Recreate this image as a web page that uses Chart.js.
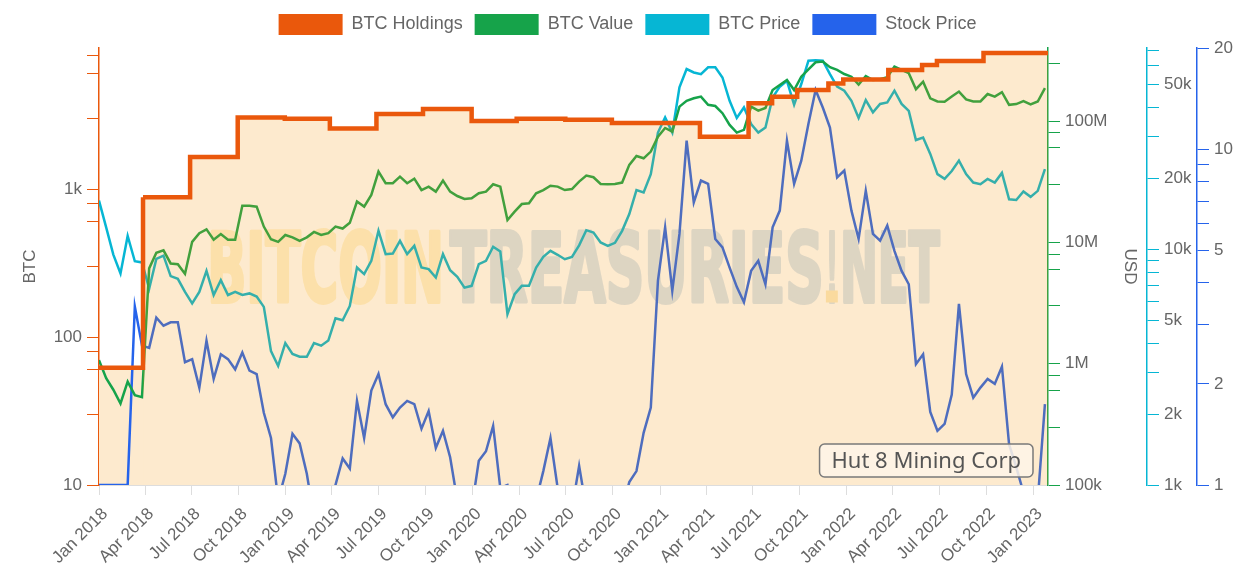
<!DOCTYPE html>
<html>
<head>
<meta charset="utf-8">
<title>Hut 8 Mining Corp</title>
<script src="https://cdn.jsdelivr.net/npm/chart.js@4.4.0/dist/chart.umd.min.js"></script>
<style>
  html, body { margin: 0; padding: 0; background: #fff; }
  #wrap { position: relative; width: 1244px; height: 588px; }
</style>
</head>
<body>
<div id="wrap"><canvas id="chart"></canvas></div>
<script>
// price / value / stock series are sampled every 14 days from firstDate
const firstDate = '2018-01-01';
const stepDays = 14;
const lastDate = '2023-01-29';

const btcPrice = [16100, 12400, 9500, 7900, 11400, 8900, 8800, 6800, 9100, 9400,
  7700, 7500, 6600, 5900, 6600, 8100, 6400, 7400, 6400, 6600,
  6400, 6500, 6300, 5700, 3700, 3200, 4000, 3600, 3500, 3500,
  4000, 3900, 4100, 5100, 5000, 5750, 8370, 7850, 8930, 12000,
  9540, 9600, 10870, 9540, 10350, 8370, 8240, 7590, 9540, 8160,
  7640, 6880, 7000, 8650, 8930, 10250, 9790, 5310, 6450, 7000,
  7000, 8370, 9290, 9850, 9480, 9080, 9290, 10400, 12060, 11790,
  10690, 10350, 10660, 11980, 14110, 17840, 17430, 20850, 31300, 36300,
  31300, 48700, 58200, 56300, 55400, 59200, 59200, 53600, 42700, 36100,
  40000, 34000, 31300, 32900, 44100, 49000, 51900, 41100, 50300, 63200,
  63500, 63200, 55400, 49000, 47100, 42700, 36100, 43000, 38100, 41400,
  42000, 47100, 41400, 38700, 29100, 29800, 25400, 20850, 19900, 21500,
  23800, 20850, 19200, 18900, 19900, 19200, 21100, 16300, 16200, 17600,
  16700, 17700, 21900];

const btcValue = [1.07e6, 7.6e5, 6.1e5, 4.7e5, 7.1e5, 5.5e5, 5.3e5, 6.1e6, 8.2e6, 8.6e6,
  6.7e6, 6.6e6, 5.5e6, 1.01e7, 1.19e7, 1.28e7, 1.05e7, 1.17e7, 1.05e7, 1.05e7,
  2.0e7, 2.0e7, 1.97e7, 1.35e7, 1.06e7, 1.01e7, 1.15e7, 1.10e7, 1.03e7, 1.10e7,
  1.22e7, 1.15e7, 1.19e7, 1.35e7, 1.30e7, 1.45e7, 2.17e7, 1.97e7, 2.46e7, 3.83e7,
  3.07e7, 3.07e7, 3.48e7, 3.07e7, 3.35e7, 2.70e7, 2.88e7, 2.62e7, 3.23e7, 2.62e7,
  2.41e7, 2.28e7, 2.31e7, 2.54e7, 2.62e7, 3.01e7, 2.88e7, 1.53e7, 1.79e7, 2.07e7,
  2.10e7, 2.54e7, 2.70e7, 2.93e7, 2.88e7, 2.70e7, 2.75e7, 3.17e7, 3.55e7, 3.44e7,
  3.03e7, 3.01e7, 3.03e7, 3.11e7, 4.35e7, 5.15e7, 4.93e7, 5.60e7, 7.43e7, 8.77e7,
  8.18e7, 1.315e8, 1.47e8, 1.54e8, 1.59e8, 1.36e8, 1.33e8, 1.16e8, 9.29e7, 8.03e7,
  8.45e7, 1.315e8, 1.22e8, 1.28e8, 1.80e8, 1.98e8, 2.18e8, 1.80e8, 2.32e8, 2.67e8,
  3.05e8, 3.09e8, 2.78e8, 2.64e8, 2.44e8, 2.32e8, 2.00e8, 2.35e8, 2.18e8, 2.21e8,
  2.30e8, 2.81e8, 2.64e8, 2.48e8, 1.83e8, 2.11e8, 1.54e8, 1.45e8, 1.44e8, 1.59e8,
  1.75e8, 1.51e8, 1.45e8, 1.45e8, 1.67e8, 1.59e8, 1.73e8, 1.36e8, 1.38e8, 1.46e8,
  1.37e8, 1.45e8, 1.87e8];

// before listing the line sits on the axis floor (1)
const stockPrice = [1, 1, 1, 1, 1, 3.4, 2.6, 2.56, 3.15, 2.98,
  3.05, 3.05, 2.32, 2.37, 1.95, 2.69, 2.07, 2.45, 2.37, 2.21,
  2.48, 2.19, 2.14, 1.64, 1.38, 0.9, 1.08, 1.42, 1.33, 1.08,
  0.8, 0.75, 0.8, 1.0, 1.2, 1.12, 1.78, 1.38, 1.91, 2.14,
  1.74, 1.59, 1.70, 1.78, 1.74, 1.47, 1.66, 1.29, 1.45, 1.21,
  0.9, 0.85, 0.85, 1.18, 1.26, 1.5, 0.98, 1.0, 0.85, 0.85,
  0.85, 0.9, 1.1, 1.38, 0.98, 0.85, 0.85, 1.14, 0.85, 0.8,
  0.8, 0.8, 0.85, 0.85, 1.02, 1.10, 1.43, 1.7, 4.06, 5.85,
  3.79, 5.59, 10.6, 6.94, 8.06, 7.88, 5.40, 5.10, 4.44, 3.89,
  3.5, 4.34, 4.65, 3.96, 5.85, 6.56, 10.6, 7.88, 9.24, 11.9,
  15.0, 13.3, 11.6, 8.24, 8.63, 6.56, 5.40, 7.52, 5.59, 5.34,
  5.92, 4.98, 4.34, 3.96, 2.29, 2.45, 1.65, 1.45, 1.52, 1.86,
  3.46, 2.14, 1.82, 1.95, 2.07, 2.0, 2.25, 1.32, 1.13, 0.95,
  0.85, 0.9, 1.74];

// holdings change dates (step line)
const holdDates = ['2018-01-01', '2018-03-28', '2018-06-28', '2018-09-29', '2018-12-30',
  '2019-03-28', '2019-06-27', '2019-09-26', '2019-12-30', '2020-03-27', '2020-06-30',
  '2020-09-29', '2021-03-20', '2021-06-23', '2021-08-08', '2021-09-26', '2021-11-26',
  '2021-12-25', '2022-03-23', '2022-05-28', '2022-06-26', '2022-09-25', '2023-01-29'];
const holdings = [62, 880, 1650, 3050, 2990, 2570, 3210, 3470, 2880, 2990, 2945,
  2790, 2256, 3794, 4205, 4667, 5176, 5506, 6370, 6890, 7330, 8300, 8300];

const quarterLabels = ['Jan 2018', 'Apr 2018', 'Jul 2018', 'Oct 2018', 'Jan 2019', 'Apr 2019',
  'Jul 2019', 'Oct 2019', 'Jan 2020', 'Apr 2020', 'Jul 2020', 'Oct 2020', 'Jan 2021',
  'Apr 2021', 'Jul 2021', 'Oct 2021', 'Jan 2022', 'Apr 2022', 'Jul 2022', 'Oct 2022', 'Jan 2023'];

const btcTicks = [10, 30, 60, 80, 100, 300, 600, 800, 1000, 3000, 6000, 8000];
const btcTickText = { 10: '10', 100: '100', 1000: '1k' };
const usdTicks = [1e5, 3e5, 6e5, 8e5, 1e6, 3e6, 6e6, 8e6, 1e7, 3e7, 6e7, 8e7, 1e8, 3e8];
const usdTickText = { 100000: '100k', 1000000: '1M', 10000000: '10M', 100000000: '100M' };
const priceTicks = [1000, 2000, 3000, 4000, 5000, 6000, 7000, 8000, 9000,
  10000, 20000, 30000, 40000, 50000, 60000, 70000];
const priceTickText = { 1000: '1k', 2000: '2k', 5000: '5k', 10000: '10k', 20000: '20k', 50000: '50k' };
const stockTicks = [1, 2, 3, 4, 5, 6, 7, 8, 9, 10, 20];
const stockTickText = { 1: '1', 2: '2', 5: '5', 10: '10', 20: '20' };

const ORANGE = '#ea580c', GREEN = '#16a34a', CYAN = '#06b6d4', BLUE = '#2563eb';
const FILL = 'rgba(245,150,10,0.2)';
const GREY = '#666';

const MONTHS = { Jan: 0, Apr: 3, Jul: 6, Oct: 9 };
const day0 = Date.parse(firstDate);
const dayOf = s => Math.round((Date.parse(s) - day0) / 864e5);
const quarterDays = quarterLabels.map(l => {
  const [m, y] = l.split(' ');
  return Math.round((Date.UTC(+y, MONTHS[m], 1) - day0) / 864e5);
});

const series = arr => arr.map((v, i) => ({ x: i * stepDays, y: v }));
const holdPoints = holdDates.map((d, i) => ({ x: dayOf(d), y: holdings[i] }));

Chart.defaults.font.family = '"Liberation Sans", Arial, sans-serif';
Chart.defaults.font.size = 17;
Chart.defaults.color = GREY;

function fixedTicks(list) {
  return s => { s.ticks = list.map(v => ({ value: v })); };
}

function logAxis(pos, min, max, ticks, text, color, width, extra) {
  return Object.assign({
    type: 'logarithmic', position: pos, min, max, bounds: 'data',
    afterBuildTicks: fixedTicks(ticks),
    afterFit: s => { s.width = width; },
    ticks: { autoSkip: false, padding: 5, color: GREY, callback: v => text[v] || '' },
    grid: { drawOnChartArea: false, tickLength: 12, color, lineWidth: 1 },
    border: { color, width: 1.5 }
  }, extra || {});
}

const legendGap = {
  id: 'legendGap',
  beforeLayout(chart) {
    const lg = chart.legend;
    if (lg && !lg._gapPatched) {
      const fit = lg.fit;
      lg.fit = function () { fit.call(this); this.height += 3; };
      lg._gapPatched = true;
    }
  }
};

const backdrop = {
  id: 'backdrop',
  beforeDatasetsDraw(chart) {
    const { ctx, chartArea: a, scales } = chart;
    ctx.save();
    // area under the first (pre-purchase) holdings step
    const x1 = scales.x.getPixelForValue(holdPoints[1].x);
    const y0 = scales.yBtc.getPixelForValue(holdings[0]);
    ctx.fillStyle = 'rgb(253,234,206)';
    ctx.fillRect(a.left, y0, x1 - a.left, a.bottom - y0);

    // watermark
    const w = (a.right - a.left) * 0.772;
    const left = (a.left + a.right) / 2 - w / 2;
    const base = (a.top + a.bottom) / 2 + 35;
    const parts = [
      ['BITCOIN', 0, 0.3233, 'rgb(254,243,210)'],
      ['TREASURIES', 0.3315, 0.8417, 'rgb(216,229,241)'],
      ['!', 0.8445, 0.8608, 'rgb(216,229,241)'],
      ['NET', 0.8636, 1, 'rgb(216,229,241)']
    ];
    ctx.font = 'bold 96px "Liberation Sans Narrow", "DejaVu Sans Condensed", "Liberation Sans", sans-serif';
    ctx.textBaseline = 'alphabetic';
    ctx.textAlign = 'left';
    ctx.lineJoin = 'round';
    for (const [t, f0, f1, c] of parts) {
      const mw = ctx.measureText(t).width;
      const sx = (f1 - f0) * w / mw;
      ctx.save();
      ctx.translate(left + f0 * w, base);
      ctx.scale(sx, 1);
      ctx.fillStyle = c;
      ctx.strokeStyle = c;
      ctx.lineWidth = 4;
      ctx.fillText(t, 0, 0);
      ctx.strokeText(t, 0, 0);
      ctx.restore();
    }
    ctx.fillStyle = 'rgb(252,236,196)';
    ctx.fillRect(left + 0.8445 * w, base - 11, 0.0163 * w, 12);
    ctx.restore();
  },
  afterDatasetsDraw(chart) {
    const { ctx, chartArea: a } = chart;
    const label = 'Hut 8 Mining Corp';
    ctx.save();
    ctx.font = '22px "Noto Sans", "Open Sans", sans-serif';
    const tw = ctx.measureText(label).width;
    const bw = tw + 24, bh = 33;
    const bx = a.right - 15 - bw, by = a.bottom - 8 - bh;
    ctx.beginPath();
    ctx.roundRect(bx, by, bw, bh, 5);
    ctx.fillStyle = 'rgba(254,245,232,0.85)';
    ctx.fill();
    ctx.lineWidth = 1.5;
    ctx.strokeStyle = '#7a7a7a';
    ctx.stroke();
    ctx.fillStyle = '#555';
    ctx.textBaseline = 'middle';
    ctx.fillText(label, bx + 12, by + bh / 2 + 1);
    ctx.restore();
  }
};

new Chart(document.getElementById('chart'), {
  type: 'line',
  data: {
    datasets: [
      {
        label: 'BTC Holdings', data: holdPoints, yAxisID: 'yBtc', order: 0,
        borderColor: ORANGE, backgroundColor: FILL, borderWidth: 4.5,
        stepped: true, fill: 'start', pointRadius: 0,
        segment: { backgroundColor: c => (c.p0DataIndex === 0 ? 'rgba(0,0,0,0)' : FILL) }
      },
      {
        label: 'BTC Value', data: series(btcValue), yAxisID: 'yValue', order: 1,
        borderColor: GREEN, backgroundColor: GREEN, borderWidth: 2.5, pointRadius: 0, tension: 0
      },
      {
        label: 'BTC Price', data: series(btcPrice), yAxisID: 'yPrice', order: 2,
        borderColor: CYAN, backgroundColor: CYAN, borderWidth: 2.5, pointRadius: 0, tension: 0
      },
      {
        label: 'Stock Price', data: series(stockPrice), yAxisID: 'yStock', order: 3,
        borderColor: BLUE, backgroundColor: BLUE, borderWidth: 2.5, pointRadius: 0, tension: 0
      }
    ]
  },
  options: {
    responsive: true,
    maintainAspectRatio: false,
    animation: false,
    events: [],
    layout: { padding: { top: 2, left: 11, right: 0, bottom: 0 } },
    plugins: {
      tooltip: { enabled: false },
      legend: {
        position: 'top',
        labels: {
          boxWidth: 64, boxHeight: 21, padding: 12, color: GREY,
          font: { size: 18 },
          generateLabels(chart) {
            return Chart.defaults.plugins.legend.labels.generateLabels(chart)
              .map(l => Object.assign(l, { fillStyle: l.strokeStyle, lineWidth: 0 }));
          }
        }
      }
    },
    scales: {
      x: {
        type: 'linear', min: 0, max: dayOf(lastDate),
        afterBuildTicks: fixedTicks(quarterDays),
        afterFit: s => { s.height = 103; },
        ticks: {
          autoSkip: false, minRotation: 45, maxRotation: 45, padding: 9, labelOffset: 6, color: GREY,
          callback: (v, i) => quarterLabels[i]
        },
        grid: { drawOnChartArea: false, tickLength: 10, color: '#dddddd' },
        border: { color: '#dddddd' }
      },
      yBtc: logAxis('left', 10, 8980, btcTicks, btcTickText, ORANGE, 88, {
        title: { display: true, text: 'BTC', color: GREY, font: { size: 17 }, padding: { top: 9, bottom: 0 } }
      }),
      yValue: logAxis('right', 1e5, 4.0e8, usdTicks, usdTickText, GREEN, 99, {
        title: { display: true, text: 'USD', color: GREY, font: { size: 17 }, padding: { top: 7, bottom: 0 } }
      }),
      yPrice: logAxis('right', 1000, 71500, priceTicks, priceTickText, CYAN, 50),
      yStock: logAxis('right', 1, 20, stockTicks, stockTickText, BLUE, 47)
    }
  },
  plugins: [legendGap, backdrop]
});
</script>
</body>
</html>
